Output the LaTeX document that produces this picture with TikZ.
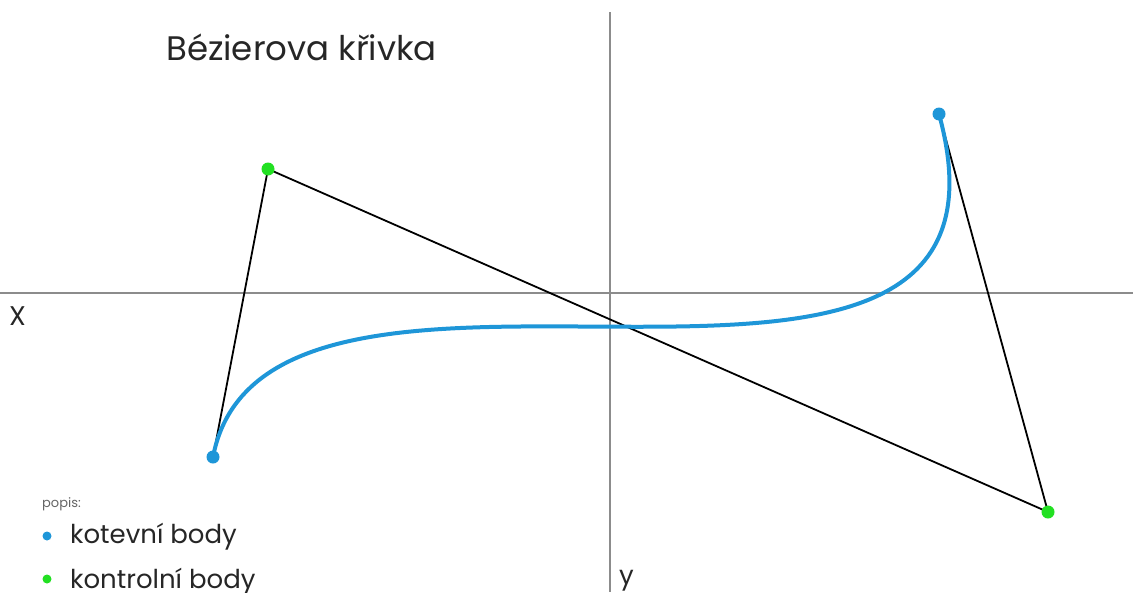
\documentclass[tikz,border=0pt]{standalone}
\usepackage{fontspec}
\setmainfont{Poppins}
\definecolor{curveblue}{HTML}{1E96D8}
\definecolor{ctrlgreen}{HTML}{22E022}
\definecolor{axisgray}{HTML}{8C8C8C}
\begin{document}
\begin{tikzpicture}[x=1pt,y=-1pt,
  axis/.style={draw=axisgray,line width=2pt},
  hull/.style={draw=black,line width=1.8pt},
  anchorpt/.style={circle,fill=curveblue,inner sep=0pt,minimum size=13pt},
  ctrlpt/.style={circle,fill=ctrlgreen,inner sep=0pt,minimum size=13pt},
  lbl/.style={inner sep=0pt,anchor=base west,text=black!85}]
\useasboundingbox[fill=white] (0,0) rectangle (1133,592);
% axes
\coordinate (xl) at (0,293);
\coordinate (xr) at (1133,293);
\coordinate (yt) at (610,12);
\coordinate (yb) at (610,592);
\draw[axis] (xl) -- (xr);
\draw[axis] (yt) -- (yb);
% points
\coordinate (P0) at (213,457);
\coordinate (P1) at (268,169);
\coordinate (P2) at (1048,512);
\coordinate (P3) at (939,114);
\draw[hull] (P0) -- (P1) -- (P2) -- (P3);
\draw[curveblue,line width=4pt] (P0) .. controls (P1) and (P2) .. (P3);
\node[anchorpt] (a0) at (P0) {};
\node[anchorpt] (a1) at (P3) {};
\node[ctrlpt] (c0) at (P1) {};
\node[ctrlpt] (c1) at (P2) {};
% texts
\node[lbl,font=\fontsize{34}{36}\selectfont] (title) at (166,60) {Bézierova křivka};
\node[lbl,font=\fontsize{27}{28}\selectfont] (xlab) at (9,325) {X};
\node[lbl,font=\fontsize{26}{28}\selectfont] (ylab) at (619,584) {y};
\node[lbl,font=\fontsize{13}{14}\selectfont,text=black!60] (popis) at (42,507) {popis:};
\node[anchorpt,minimum size=9pt] (la) at (47,536) {};
\node[lbl,font=\fontsize{26}{28}\selectfont] (ltext) at (70,543) {kotevní body};
\node[ctrlpt,minimum size=9pt] (lc) at (47,579) {};
\node[lbl,font=\fontsize{26}{28}\selectfont] (ctext) at (70,588) {kontrolní body};
\end{tikzpicture}
\end{document}
